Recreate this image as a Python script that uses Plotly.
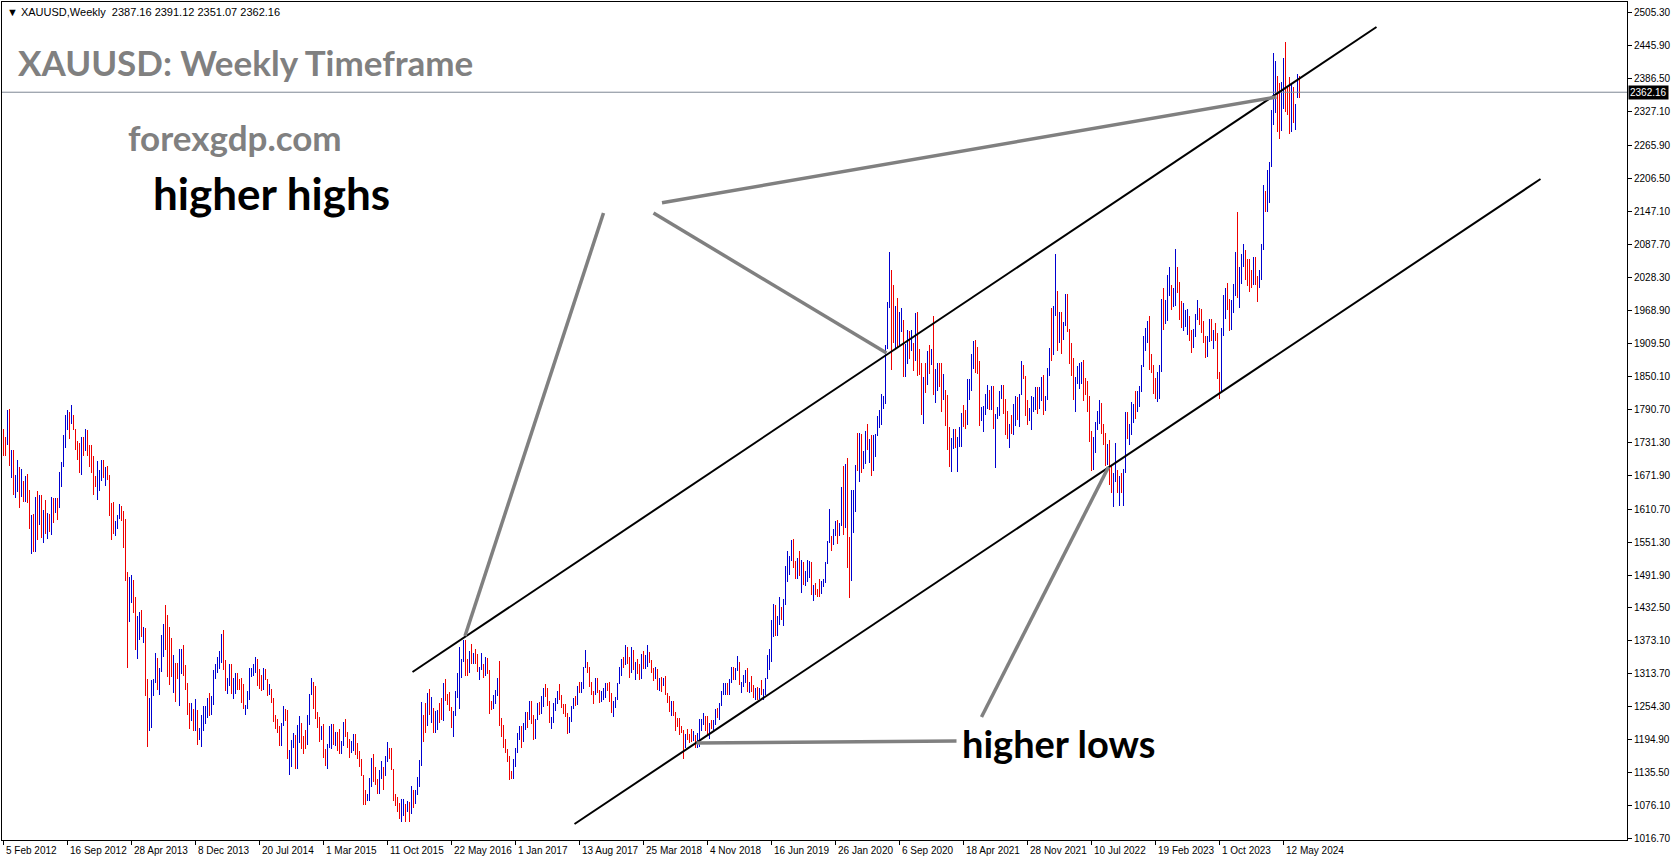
import plotly.graph_objects as go

# ---------------- weekly XAUUSD bars (high, low, bullish flag) ----------------
highs_2012 = [1755,1740,1790,1792,1718,1718,1672,1699,1686,1683,1662,1670,1674,1645,1600,1602,1633,1643,1636,1636,
              1609,1627,1603,1602,1633,1630,1630,1630,1678,1696,1744,1780,1789,1786,1798,1780,1756,1733,1730,1741,
              1741,1756,1754,1726,1726,1707,1670,1698]
lows_2012 = [1707,1707,1726,1688,1666,1637,1630,1642,1613,1633,1624,1624,1622,1575,1529,1534,1534,1555,1582,1559,
             1550,1566,1557,1570,1564,1586,1604,1591,1612,1651,1687,1720,1753,1737,1764,1754,1717,1699,1676,1672,
             1706,1716,1707,1686,1675,1636,1651,1627]
up_2012 = [0,0,1,0,1,0,1,1,0,1, 0,1,0,0,1,0,1,0,1,0, 1,0,1,0,1,0,1,0,1,1, 1,1,1,0,1,0,0,0,0,1, 0,1,0,0,0,0,0,1]

highs_2013 = [1682,1699,1699,1687,1688,1672,1622,1624,1589,1600, 1620,1616,1608,1593,1498,1489,1492,1483,1453,1418,
              1426,1428,1398,1396,1305,1271,1303,1304,1351,1342, 1324,1383,1404,1438,1420,1398,1378,1347,1334,1333,
              1359,1359,1366,1330,1297,1261,1261,1251,1268,1248, 1217,1240]
lows_2013 = [1644,1662,1667,1652,1663,1598,1555,1566,1562,1575, 1593,1589,1541,1482,1325,1407,1442,1423,1357,1341,
             1375,1381,1369,1274,1182,1211,1217,1273,1298,1285, 1276,1318,1345,1357,1309,1294,1308,1280,1263,1304,
             1255,1314,1310,1285,1240,1214,1229,1211,1210,1185, 1195,1182]
up_2013 = [1,1,0,1,0,0,0,0,1,1, 1,0,0,0,0,1,1,0,0,1, 1,0,1,0,0,1,1,1,1,0, 1,1,1,0,0,0,0,1,0,0, 1,1,0,0,0,0,1,0,1,0, 1,1]

highs_2014 = [1255,1256,1270,1280,1274,1320,1332,1345,1355,1385, 1392,1338,1306,1331,1331,1306,1315,1315,1305,1306,
              1296,1257,1283,1325,1325,1332,1345,1340,1322,1311, 1324,1322,1305,1296,1287,1270,1239,1232,1219,1226,
              1255,1250,1248,1176,1194,1207,1204,1221,1238,1225, 1202,1212]
lows_2014 = [1211,1224,1235,1238,1240,1257,1305,1315,1323,1334, 1321,1282,1277,1292,1277,1268,1277,1284,1284,1262,
             1251,1240,1250,1267,1308,1310,1315,1292,1287,1282, 1284,1303,1273,1275,1262,1227,1214,1207,1183,1183,
             1219,1228,1161,1132,1145,1180,1142,1142,1190,1178, 1170,1178]
up_2014 = [1,1,1,0,1,1,1,1,1,1, 0,0,1,1,0,1,1,0,0,0, 0,1,1,1,1,1,1,0,0,0, 1,0,0,1,0,0,0,0,0,1, 1,0,0,1,1,1,0,1,1,0, 0,0]

highs_2015 = [1239,1277,1307,1300,1292,1245,1236,1220,1223,1178, 1187,1220,1224,1224,1209,1209,1215,1193,1227,1232,
              1209,1196,1193,1205,1205,1189,1175,1160,1131,1105, 1098,1126,1162,1170,1146,1125,1141,1156,1146,1166,
              1191,1180,1180,1142,1097,1091,1081,1088,1088,1080, 1085,1082]
lows_2015 = [1186,1222,1276,1251,1232,1216,1191,1194,1163,1147, 1142,1180,1178,1186,1183,1175,1170,1170,1183,1200,
             1180,1162,1171,1175,1168,1161,1146,1130,1077,1077, 1084,1085,1110,1118,1113,1098,1098,1124,1105,1129,
             1155,1160,1140,1085,1075,1064,1052,1046,1057,1047, 1065,1047]
up_2015 = [1,1,1,0,0,0,0,1,0,0, 1,1,1,0,1,0,0,1,1,0, 0,0,1,1,0,0,0,0,0,0, 1,1,1,0,0,0,1,1,0,1, 1,0,0,0,0,0,0,1,1,0, 1,0]

highs_2016 = [1111,1104,1105,1128,1158,1263,1240,1261,1280,1287, 1272,1253,1247,1248,1262,1270,1297,1304,1277,1281,
              1254,1246,1283,1315,1362,1340,1375,1374,1340,1355, 1367,1352,1358,1350,1327,1352,1331,1344,1342,1320,
              1264,1276,1284,1307,1337,1235,1222,1196,1178,1166, 1139,1160]
lows_2016 = [1062,1072,1080,1096,1110,1147,1191,1208,1219,1240, 1226,1208,1207,1212,1225,1231,1228,1265,1258,1247,
             1216,1200,1238,1270,1251,1307,1336,1310,1310,1315, 1332,1331,1331,1317,1302,1320,1306,1310,1314,1241,
             1248,1251,1259,1273,1220,1200,1180,1171,1155,1122, 1125,1124]
up_2016 = [1,0,1,1,1,1,0,0,1,0, 1,0,1,1,0,0,1,0,0,0, 0,1,1,1,1,1,1,0,0,1, 0,1,0,0,1,1,0,1,0,0, 0,1,1,1,0,0,0,0,0,0, 0,1]

highs_2017 = [1180,1207,1220,1220,1226,1245,1245,1264,1264,1240, 1233,1261,1263,1273,1288,1295,1288,1264,1236,1262,
              1271,1282,1296,1275,1260,1259,1243,1236,1256,1270, 1274,1291,1300,1300,1326,1357,1336,1326,1300,1283,
              1306,1306,1285,1282,1288,1297,1298,1299,1280,1264, 1272,1298,1326]
lows_2017 = [1146,1172,1194,1180,1191,1213,1216,1230,1224,1195, 1196,1230,1240,1241,1254,1272,1256,1225,1214,1226,
             1247,1259,1266,1252,1242,1236,1205,1208,1227,1250, 1256,1257,1280,1280,1287,1324,1315,1290,1275,1260,
             1275,1280,1262,1263,1266,1270,1282,1263,1244,1236, 1253,1267,1295]
up_2017 = [1,1,1,0,1,1,0,1,0,0, 1,1,0,1,1,0,0,0,1,1, 1,1,0,0,0,0,0,1,1,1, 0,1,0,1,1,1,0,0,0,0, 1,0,0,1,1,1,0,0,0,1, 1,1,1]

highs_2018 = [1340,1345,1366,1362,1345,1362,1356,1336,1340,1331, 1350,1355,1347,1366,1353,1338,1325,1326,1322,1307,
              1309,1306,1310,1280,1274,1265,1264,1245,1235,1234, 1220,1213,1206,1214,1206,1214,1211,1204,1208,1233,
              1233,1243,1238,1237,1225,1230,1230,1250,1253,1261, 1283,1298]
lows_2018 = [1310,1324,1330,1331,1307,1316,1321,1303,1313,1302, 1305,1322,1322,1327,1333,1315,1301,1304,1284,1282,
             1281,1291,1276,1261,1245,1237,1237,1211,1218,1204, 1207,1160,1180,1195,1190,1191,1193,1180,1181,1182,
             1210,1222,1211,1204,1196,1215,1212,1221,1234,1231, 1256,1276]
up_2018 = [1,0,1,0,0,1,0,1,0,0, 1,0,1,1,0,0,0,1,0,1, 0,1,0,0,0,1,0,0,0,0, 0,0,1,0,0,0,1,0,1,1, 1,1,0,0,1,0,1,1,0,1, 1,1]

highs_2019 = [1298,1298,1304,1326,1326,1324,1346,1335,1299,1311, 1320,1325,1300,1310,1293,1289,1290,1289,1303,1287,
              1306,1348,1358,1411,1439,1437,1418,1452,1434,1448, 1509,1535,1527,1555,1557,1517,1523,1535,1519,1516,
              1499,1519,1517,1516,1474,1478,1467,1485,1482,1485, 1515,1553]
lows_2019 = [1276,1276,1276,1297,1303,1302,1319,1294,1280,1290, 1298,1281,1280,1281,1270,1266,1266,1268,1275,1266,
             1275,1305,1321,1336,1381,1382,1382,1401,1411,1400, 1437,1480,1492,1517,1505,1485,1484,1491,1459,1474,
             1473,1480,1486,1456,1446,1456,1452,1453,1457,1470, 1477,1511]
up_2019 = [1,0,1,1,0,1,1,0,1,1, 1,0,1,0,0,1,0,1,0,1, 1,1,1,1,1,0,1,1,0,1, 1,1,1,1,0,0,1,0,1,0, 1,1,1,0,1,0,0,0,1,1, 1,1]

highs_2020 = [1611,1562,1575,1589,1591,1585,1650,1689,1692,1703, 1560,1645,1646,1690,1748,1748,1747,1716,1752,1765,
              1738,1745,1745,1746,1779,1789,1818,1815,1907,1984, 2075,2042,2015,1976,1992,1966,1973,1951,1908,1933,
              1932,1933,1911,1965,1966,1899,1875,1848,1875,1896, 1906,1900]
lows_2020 = [1549,1536,1546,1563,1548,1562,1580,1564,1576,1505, 1451,1482,1567,1606,1680,1659,1676,1683,1692,1717,
             1693,1670,1680,1705,1742,1757,1762,1791,1800,1900, 1974,1862,1911,1902,1902,1906,1930,1848,1848,1873,
             1882,1895,1860,1877,1850,1853,1781,1764,1820,1835, 1855,1870]
up_2020 = [1,0,1,1,0,1,1,0,1,0, 0,1,1,1,0,1,0,1,1,0, 1,0,1,1,1,1,1,1,1,1, 1,0,0,1,0,1,1,0,1,1, 0,1,0,1,0,0,0,1,0,1, 0,1]

highs_2021 = [1959,1863,1875,1875,1875,1855,1825,1816,1759,1739, 1755,1755,1740,1758,1784,1798,1790,1845,1845,1890,
              1913,1916,1903,1877,1795,1796,1818,1834,1825,1833, 1832,1783,1795,1823,1834,1834,1809,1788,1764,1781,
              1801,1814,1813,1818,1877,1870,1850,1808,1793,1815, 1812,1831]
lows_2021 = [1817,1802,1823,1830,1785,1807,1760,1717,1687,1677, 1719,1721,1677,1722,1723,1759,1756,1763,1808,1823,
             1864,1856,1855,1761,1770,1750,1780,1792,1789,1790, 1755,1684,1773,1779,1809,1782,1745,1737,1721,1746,
             1745,1760,1771,1758,1816,1845,1778,1762,1770,1753, 1786,1790]
up_2021 = [0,1,1,0,0,1,0,0,0,1, 1,0,1,1,1,0,0,1,1,1, 1,0,0,0,1,1,1,1,0,1, 0,1,1,1,1,0,0,0,1,0, 1,1,0,1,1,0,0,0,1,1, 1,1]

highs_2022 = [1831,1830,1848,1853,1815,1865,1902,1974,1976,2070, 2003,1966,1966,1948,1998,1998,1936,1910,1883,1849,
              1869,1874,1876,1879,1847,1842,1815,1752,1740,1767, 1788,1807,1802,1765,1748,1729,1735,1688,1676,1730,
              1682,1671,1675,1683,1786,1786,1765,1804,1800,1824, 1823,1833]
lows_2022 = [1782,1791,1805,1780,1788,1807,1851,1878,1889,1958, 1895,1910,1890,1915,1940,1930,1872,1850,1807,1786,
             1836,1828,1836,1805,1816,1785,1732,1680,1681,1711, 1754,1764,1747,1727,1688,1690,1654,1639,1614,1660,
             1640,1617,1639,1616,1676,1737,1727,1745,1766,1773, 1785,1795]
up_2022 = [0,1,1,0,1,1,1,0,1,1, 0,1,0,1,1,0,0,0,0,1, 1,1,1,0,0,0,0,0,1,1, 1,1,0,0,0,1,0,0,1,1, 0,1,0,1,1,0,1,1,1,0, 1,1]

highs_2023 = [1870,1923,1937,1949,1959,1890,1870,1847,1858,1870, 1989,2009,1988,2032,2048,2015,2009,2079,2048,2021,
              1985,1983,1970,1971,1959,1933,1935,1963,1987,1973, 1972,1949,1922,1922,1953,1953,1933,1947,1929,1858,
              1937,1997,2009,2019,1989,1987,2017,2075,2146,2047, 2070,2088,2078]
lows_2023 = [1822,1866,1896,1911,1861,1856,1818,1809,1804,1810, 1858,1934,1945,1949,1994,1969,1975,1977,2000,1951,
             1937,1932,1939,1925,1913,1893,1902,1921,1952,1942, 1929,1910,1884,1885,1912,1914,1900,1913,1846,1810,
             1823,1922,1953,1969,1931,1934,1965,1994,1992,1973, 2016,2048,2024]
up_2023 = [1,1,1,1,0,0,0,0,1,1, 1,0,1,1,1,0,1,1,0,0, 0,1,1,1,0,0,1,1,1,0, 0,0,0,1,1,0,1,0,0,0, 1,1,1,0,0,1,1,1,0,1, 1,1,0]

highs_2024 = [2062,2061,2042,2065,2065,2031,2041,2088,2195,2185, 2222,2236,2330,2432,2418,2392,2378,2380,2424,2452,
              2373,2390,2378,2371,2341,2395,2391]
lows_2024 = [2013,2002,2010,2015,2015,1984,2009,2024,2078,2146, 2146,2163,2228,2303,2325,2291,2278,2293,2332,2327,
             2321,2287,2290,2306,2294,2352,2351]
up_2024 = [0,0,0,1,0,0,1,1,1,0, 1,1,1,1,1,0,0,1,1,0, 0,0,1,0,1,1,0]

# axis labels
date_labels = ["5 Feb 2012", "16 Sep 2012", "28 Apr 2013", "8 Dec 2013", "20 Jul 2014", "1 Mar 2015",
               "11 Oct 2015", "22 May 2016", "1 Jan 2017", "13 Aug 2017", "25 Mar 2018", "4 Nov 2018",
               "16 Jun 2019", "26 Jan 2020", "6 Sep 2020", "18 Apr 2021", "28 Nov 2021", "10 Jul 2022",
               "19 Feb 2023", "1 Oct 2023", "12 May 2024"]
date_step = 32  # bars between date labels
price_ticks = [2505.30, 2445.90, 2386.50, 2327.10, 2265.90, 2206.50, 2147.10, 2087.70, 2028.30, 1968.90,
               1909.50, 1850.10, 1790.70, 1731.30, 1671.90, 1610.70, 1551.30, 1491.90, 1432.50, 1373.10,
               1313.70, 1254.30, 1194.90, 1135.50, 1076.10, 1016.70]
last_price = 2362.16
header = "▼ XAUUSD,Weekly  2387.16 2391.12 2351.07 2362.16"

# drawn objects (bar index, price)
upper_channel = [(204.5, 1317.1), (686.5, 2479.7)]
lower_channel = [(285.5, 1043.1), (768.5, 2205.7)]
pointer_lines = [
    [(300.0, 2144.4), (230.75, 1382.0)],
    [(325.0, 2144.4), (441.5, 1892.1)],
    [(329.25, 2163.0), (636.5, 2353.5)],
    [(346.5, 1189.1), (476.5, 1192.8)],
    [(489.0, 1236.0), (552.5, 1686.6)],
]

highs = (highs_2012 + highs_2013 + highs_2014 + highs_2015 + highs_2016 + highs_2017 + highs_2018 +
         highs_2019 + highs_2020 + highs_2021 + highs_2022 + highs_2023 + highs_2024)
lows = (lows_2012 + lows_2013 + lows_2014 + lows_2015 + lows_2016 + lows_2017 + lows_2018 +
        lows_2019 + lows_2020 + lows_2021 + lows_2022 + lows_2023 + lows_2024)
ups = (up_2012 + up_2013 + up_2014 + up_2015 + up_2016 + up_2017 + up_2018 +
       up_2019 + up_2020 + up_2021 + up_2022 + up_2023 + up_2024)

ux, uy, dx, dy = [], [], [], []
for i, (h, l, u) in enumerate(zip(highs, lows, ups)):
    if u:
        ux += [i, i, None]; uy += [l, h, None]
    else:
        dx += [i, i, None]; dy += [l, h, None]

fig = go.Figure()
fig.add_trace(go.Scatter(x=ux, y=uy, mode="lines", line=dict(color="#0000d0", width=1),
                         hoverinfo="skip", showlegend=False))
fig.add_trace(go.Scatter(x=dx, y=dy, mode="lines", line=dict(color="#ee0000", width=1),
                         hoverinfo="skip", showlegend=False))

shapes = []
shapes.append(dict(type="line", xref="paper", yref="y", x0=0, x1=1, y0=last_price, y1=last_price,
                   line=dict(color="#7d8794", width=1)))
for (x0, y0), (x1, y1) in [upper_channel, lower_channel]:
    shapes.append(dict(type="line", xref="x", yref="y", x0=x0, y0=y0, x1=x1, y1=y1,
                       line=dict(color="#000000", width=2)))
for (x0, y0), (x1, y1) in pointer_lines:
    shapes.append(dict(type="line", xref="x", yref="y", x0=x0, y0=y0, x1=x1, y1=y1,
                       line=dict(color="#808080", width=3.5)))

annotations = []
big = "Lato"
annotations.append(dict(text="<b>XAUUSD: Weekly Timeframe</b>", x=6, y=2416.6, xref="x", yref="y",
                        xanchor="left", yanchor="middle", showarrow=False,
                        font=dict(family=big, size=35, color="#808080")))
annotations.append(dict(text="<b>forexgdp.com</b>", x=61, y=2281.4, xref="x", yref="y",
                        xanchor="left", yanchor="middle", showarrow=False,
                        font=dict(family=big, size=35, color="#808080")))
annotations.append(dict(text="<b>higher highs</b>", x=73.5, y=2180.0, xref="x", yref="y",
                        xanchor="left", yanchor="middle", showarrow=False,
                        font=dict(family=big, size=44, color="#000000")))
annotations.append(dict(text="<b>higher lows</b>", x=478.0, y=1189.0, xref="x", yref="y",
                        xanchor="left", yanchor="middle", showarrow=False,
                        font=dict(family=big, size=38, color="#000000")))
annotations.append(dict(text=header, x=0, y=1, xref="paper", yref="paper", xshift=3, yshift=-2,
                        xanchor="left", yanchor="top", showarrow=False,
                        font=dict(family="Liberation Sans", size=11, color="#000000")))
annotations.append(dict(text=f"{last_price:.2f}", x=1, y=last_price, xref="paper", yref="y",
                        xanchor="left", yanchor="middle", showarrow=False, xshift=1,
                        bgcolor="#000000", borderpad=1,
                        font=dict(family="Liberation Sans", size=10, color="#ffffff")))
for k, lab in enumerate(date_labels):
    annotations.append(dict(text=lab, x=k * date_step, y=0, xref="x", yref="paper",
                            xanchor="left", yanchor="top", showarrow=False, xshift=0, yshift=-3,
                            font=dict(family="Liberation Sans", size=10, color="#000000")))

fig.update_layout(
    width=1673, height=861, autosize=False,
    margin=dict(l=2, r=46, t=2, b=21),
    paper_bgcolor="#ffffff", plot_bgcolor="#ffffff",
    shapes=shapes, annotations=annotations,
    xaxis=dict(range=[-0.75, 811.75], showgrid=False, zeroline=False,
               showline=True, linecolor="#000000", linewidth=1, mirror=True,
               tickmode="array", tickvals=[k * date_step for k in range(len(date_labels))],
               ticks="outside", ticklen=4, tickcolor="#000000", showticklabels=False),
    yaxis=dict(range=[1014.3, 2524.8], side="right", showgrid=False, zeroline=False,
               showline=True, linecolor="#000000", linewidth=1, mirror=True,
               tickmode="array", tickvals=price_ticks, ticktext=[f"{v:.2f}" for v in price_ticks],
               ticks="outside", ticklen=4, tickcolor="#000000",
               tickfont=dict(family="Liberation Sans", size=10, color="#000000")),
)

fig.write_html("out.html", config={"displayModeBar": False},
               post_script=("document.body.style.margin='0';document.body.style.overflow='hidden';"
                            "document.querySelectorAll('.scatterlayer path').forEach(function(p){"
                            "p.style.shapeRendering='crispEdges';});"))
